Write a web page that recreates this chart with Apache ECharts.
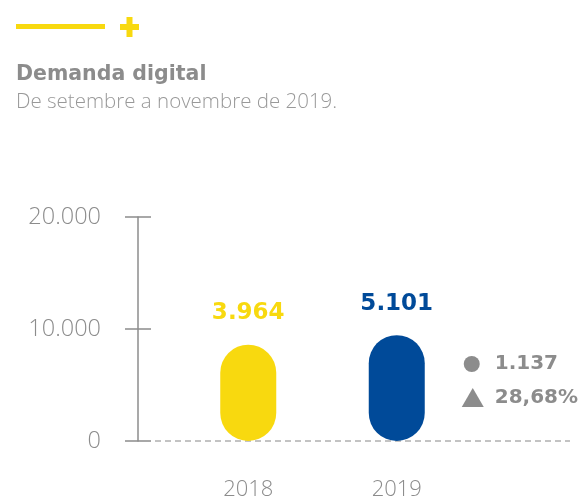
<!DOCTYPE html>
<html>
<head>
<meta charset="utf-8">
<script src="https://cdn.jsdelivr.net/npm/echarts@6/dist/echarts.min.js"></script>
<style>
  html, body { margin: 0; padding: 0; background: #fff; }
  #chart { width: 582px; height: 503px; }
</style>
</head>
<body>
<div id="chart"></div>
<script>
  // dados
  var years = ['2018', '2019'];
  var barHeights = [8600, 9450];          // altura desenhada das pílulas (escala do eixo)
  var valueLabels = ['3.964', '5.101'];   // valores mostrados
  var barColors = ['#F8D90F', '#004A99'];
  var yTicks = [0, 10000, 20000];
  var diffLabels = ['1.137', '28,68%'];

  var gray = '#8c8c8c';

  function fmt(v) {
    return String(v).replace(/\B(?=(\d{3})+(?!\d))/g, '.');
  }

  var chart = echarts.init(document.getElementById('chart'));

  var yAxisBase = {
    type: 'value',
    position: 'left',
    min: yTicks[0],
    max: yTicks[yTicks.length - 1],
    interval: 10000,
    offset: 36,
    splitLine: { show: false }
  };

  var option = {
    animation: false,
    backgroundColor: '#fff',
    title: [
      {
        text: 'Demanda digital',
        left: 16, top: 64, padding: 0,
        textStyle: { fontFamily: 'DejaVu Sans', fontWeight: 'bold', fontSize: 20.5, color: gray }
      },
      {
        text: 'De setembre a novembre de 2019.',
        left: 16, top: 92, padding: 0,
        textStyle: { fontFamily: 'Open Sans', fontWeight: 300, fontSize: 20.5, color: '#999' }
      }
    ],
    grid: { left: 174, right: 111, top: 217, bottom: 62 },
    xAxis: {
      type: 'category',
      data: years,
      axisLine: { show: false },
      axisTick: { show: false },
      axisLabel: {
        margin: 38,
        fontFamily: 'Open Sans', fontWeight: 300, fontSize: 22, color: gray
      }
    },
    yAxis: [
      Object.assign({}, yAxisBase, {
        axisLine: { show: true, lineStyle: { color: gray, width: 1.5 } },
        axisTick: { show: true, length: 13, lineStyle: { color: gray, width: 1.5 } },
        axisLabel: {
          margin: 37,
          formatter: fmt,
          fontFamily: 'Open Sans', fontWeight: 300, fontSize: 23.5, color: gray
        }
      }),
      Object.assign({}, yAxisBase, {
        axisLine: { show: false },
        axisTick: { show: true, inside: true, length: 13, lineStyle: { color: gray, width: 1.5 } },
        axisLabel: { show: false }
      })
    ],
    series: [{
      type: 'bar',
      barWidth: 56,
      data: barHeights.map(function (v, i) {
        return {
          value: v,
          itemStyle: { color: barColors[i], borderRadius: 28 },
          label: { color: barColors[i] }
        };
      }),
      label: {
        show: true,
        position: 'top',
        distance: 20,
        formatter: function (p) { return valueLabels[p.dataIndex]; },
        fontFamily: 'DejaVu Sans', fontWeight: 'bold', fontSize: 23
      }
    }]
  };

  chart.setOption(option);

  var y0 = chart.convertToPixel({ yAxisIndex: 0 }, 0);
  var x2019 = chart.convertToPixel({ xAxisIndex: 0 }, years[1]);

  chart.setOption({
    graphic: [
      // cabeçalho
      { type: 'rect', shape: { x: 16, y: 24, width: 89, height: 5 }, style: { fill: barColors[0] } },
      { type: 'rect', shape: { x: 120, y: 24, width: 19, height: 6 }, style: { fill: barColors[0] } },
      { type: 'rect', shape: { x: 126.5, y: 17, width: 6, height: 20 }, style: { fill: barColors[0] } },
      // linha base tracejada
      {
        type: 'line', silent: true,
        shape: { x1: 155, y1: y0, x2: 570, y2: y0 },
        style: { stroke: '#b0b0b0', lineWidth: 1.5, lineDash: [6, 4] }
      },
      // diferença
      { type: 'circle', shape: { cx: x2019 + 75, cy: 364, r: 8 }, style: { fill: gray } },
      {
        type: 'text', x: x2019 + 98, y: 364,
        style: {
          text: diffLabels[0], fill: gray, verticalAlign: 'middle',
          font: 'bold 20px "DejaVu Sans"'
        }
      },
      {
        type: 'polygon',
        shape: { points: [[x2019 + 65, 407], [x2019 + 76, 388], [x2019 + 87, 407]] },
        style: { fill: gray }
      },
      {
        type: 'text', x: x2019 + 98, y: 398,
        style: {
          text: diffLabels[1], fill: gray, verticalAlign: 'middle',
          font: 'bold 20px "DejaVu Sans"'
        }
      }
    ]
  });
</script>
</body>
</html>
